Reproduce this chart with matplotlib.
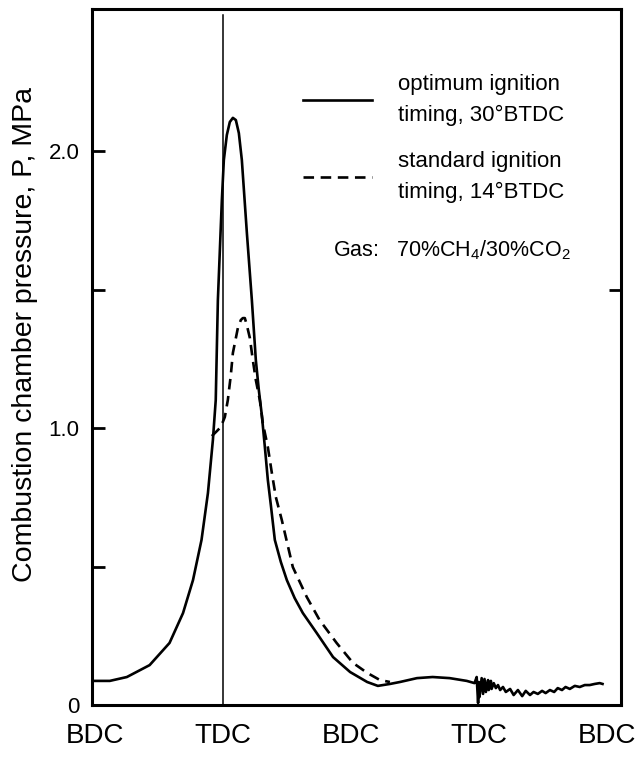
import matplotlib
matplotlib.use("Agg")
import matplotlib.pyplot as plt

plt.rcParams['font.family'] = ['Liberation Sans', 'DejaVu Sans']
plt.rcParams['mathtext.default'] = 'regular'

# crank angle (deg, TDC = 0) and chamber pressure (MPa)
opt_angle = [-184, -159, -135, -103, -75, -56, -42, -30, -21, -14, -10, -7, -4.2, -1.4,
             1.4, 5.6, 9.8, 14.1, 18.3, 22.5, 26.7, 33.8, 40.8, 46.4, 50.6, 54.8, 59.1,
             63.3, 67.5, 73.1, 81.6, 90, 101, 112.5, 132, 155, 179, 203, 218, 235, 249,
             273, 295, 319, 343, 354,
             357, 359, 360, 361, 364, 366, 368, 370, 373, 374, 377, 378, 381, 384, 387,
             390, 394, 398, 404, 409, 415, 421, 426, 432, 437, 443, 449, 454, 460, 466,
             471, 477, 482, 488, 495, 502, 509, 516, 523, 530, 534]
opt_p = [0.087, 0.087, 0.101, 0.144, 0.224, 0.332, 0.451, 0.596, 0.765, 0.957, 1.101, 1.462,
         1.643, 1.823, 1.968, 2.058, 2.105, 2.120, 2.112, 2.065, 1.968, 1.704, 1.462, 1.245,
         1.137, 1.047, 0.931, 0.812, 0.722, 0.596, 0.516, 0.451, 0.386, 0.332, 0.260, 0.173,
         0.119, 0.083, 0.069, 0.076, 0.083, 0.097, 0.101, 0.097, 0.087, 0.079,
         0.101, 0.007, 0.083, 0.029, 0.097, 0.040, 0.094, 0.047, 0.090, 0.054, 0.087, 0.058,
         0.079, 0.061, 0.072, 0.054, 0.065, 0.047, 0.058, 0.036, 0.054, 0.032, 0.051, 0.036,
         0.047, 0.040, 0.051, 0.043, 0.054, 0.047, 0.061, 0.054, 0.065, 0.058, 0.069, 0.065,
         0.072, 0.072, 0.076, 0.079, 0.076]

std_angle = [-15.5, -8.4, -2.8, 2.8, 7.0, 11.2, 14.1, 21.1, 25.3, 28.1, 30.9, 33.7, 38.0,
             42.2, 46.4, 52.0, 56.2, 63.3, 68.9, 74.5, 82.9, 98.4, 118, 136, 160, 183, 203,
             221, 235]
std_p = [0.971, 0.989, 1.004, 1.040, 1.101, 1.191, 1.271, 1.361, 1.390, 1.397, 1.397, 1.372,
         1.325, 1.245, 1.173, 1.101, 1.018, 0.931, 0.838, 0.751, 0.668, 0.498, 0.390, 0.307,
         0.224, 0.152, 0.116, 0.090, 0.083]

x_pos = [-180, 0, 180, 360, 540]
x_labels = ['BDC', 'TDC', 'BDC', 'TDC', 'BDC']
y_ticks = [0, 0.5, 1.0, 1.5, 2.0]
y_labels = ['0', '', '1.0', '', '2.0']

labels = ['optimum ignition\ntiming, 30°BTDC', 'standard ignition\ntiming, 14°BTDC']

fig = plt.figure(figsize=(6.44, 7.57), dpi=100)
ax = fig.add_axes([0.1429, 0.0687, 0.8214, 0.9194])

ax.plot(opt_angle, opt_p, color='black', lw=1.9, label=labels[0])
ax.plot(std_angle, std_p, color='black', lw=1.9, linestyle=(0, (4, 2.5)), label=labels[1])
ax.axvline(0, ymax=0.991, color='black', lw=1.1)

ax.set_xlim(-184, 560)
ax.set_ylim(0, 2.513)

for s in ax.spines.values():
    s.set_linewidth(2.2)

ax.set_xticks(x_pos)
ax.set_xticklabels(x_labels, fontsize=20)
ax.tick_params(axis='x', which='major', length=0, pad=13)
ax.set_xticks([180, 360], minor=True)
ax.tick_params(axis='x', which='minor', direction='in', length=9.5, width=1.6)

ax.set_yticks(y_ticks)
ax.set_yticklabels(y_labels, fontsize=16)
ax.tick_params(axis='y', direction='in', length=9, width=2, pad=9)

# single inward tick on the right spine
ax2 = ax.twinx()
ax2.set_ylim(ax.get_ylim())
ax2.set_yticks([1.5])
ax2.set_yticklabels([])
ax2.tick_params(axis='y', direction='in', length=9, width=2)
for s in ax2.spines.values():
    s.set_visible(False)

fig.text(25 / 644, 1 - 335 / 757, 'Combustion chamber pressure, P, MPa',
         rotation=90, ha='center', va='center', fontsize=20.5)

leg = ax.legend(loc='upper left', bbox_to_anchor=(0.399, 0.9066), frameon=False,
                fontsize=16, handlelength=3.1, handletextpad=1.15, labelspacing=1.12,
                borderpad=0, borderaxespad=0)
for t in leg.get_texts():
    t.set_linespacing(1.62)

ax.text(0.456, 0.654, 'Gas:   70%CH$_4$/30%CO$_2$', transform=ax.transAxes,
        ha='left', va='center', fontsize=15.5)

fig.savefig('out.png', dpi=100)
